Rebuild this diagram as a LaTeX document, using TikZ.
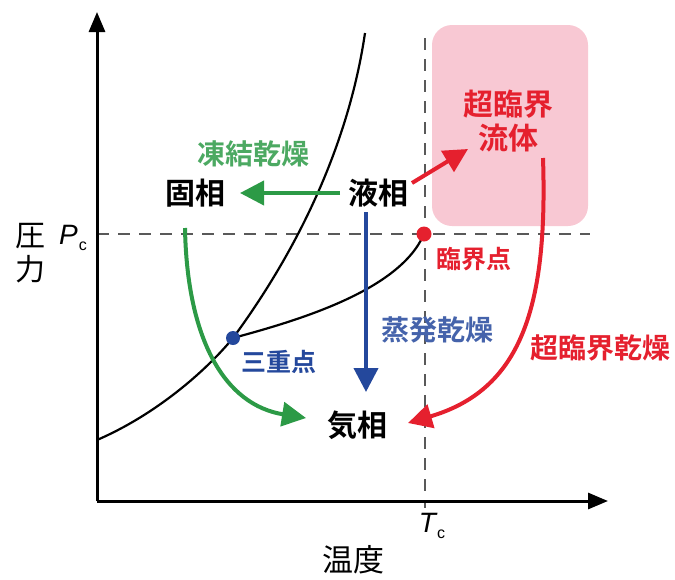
\documentclass[tikz,border=0pt]{standalone}
\usepackage{fontspec}
\setmainfont{Liberation Sans}
\newfontfamily\cjk{Noto Sans CJK JP}
\newfontfamily\cjkb{Noto Sans CJK JP Bold}
\usetikzlibrary{arrows.meta}
\definecolor{myred}{HTML}{E5202E}
\definecolor{mygreen}{HTML}{2C9A46}
\definecolor{myblue}{HTML}{24489C}
\definecolor{mypink}{HTML}{F8C8D3}
\tikzset{
  phase/.style={font=\cjkb\fontsize{30}{30}\selectfont, text=black, inner sep=1pt},
  lbl/.style={font=\cjkb\fontsize{28}{28}\selectfont, inner sep=1pt},
  small/.style={font=\cjkb\fontsize{25}{25}\selectfont, inner sep=1pt},
  big/.style={-{Triangle[length=24pt,width=24pt]}, line width=4pt},
  axis/.style={line width=3pt, -{Triangle[length=20pt,width=16pt]}},
  dashline/.style={dashed, dash pattern=on 12pt off 9pt, line width=1.4pt, draw=black!65},
}
\begin{document}
\begin{tikzpicture}[x=1pt,y=-1pt]
\useasboundingbox (0,0) rectangle (675,579);
% pink box
\fill[mypink, rounded corners=20pt] (432,25) rectangle (588,226);
% dashed lines
\coordinate (dvt) at (425,38);
\coordinate (dvb) at (425,508);
\coordinate (dhl) at (97,234);
\coordinate (dhr) at (590,234);
\draw[dashline] (dvt) -- (dvb);
\draw[dashline] (dhl) -- (dhr);
% axes
\coordinate (o) at (97,501);
\coordinate (ytop) at (97,12);
\coordinate (xr) at (608,501);
\draw[axis] (o) -- (ytop);
\draw[axis] (o) -- (xr);
% phase boundaries
\coordinate (tp) at (233,338);
\coordinate (cp) at (424,234);
\coordinate (sub0) at (97,440);
\coordinate (melt1) at (365,33);
\draw[line width=2.2pt] (sub0) .. controls (155,415) and (205,372) .. (tp)
  .. controls (305,240) and (350,135) .. (melt1);
\draw[line width=2.2pt] (tp) .. controls (300,320) and (400,290) .. (cp);
% labels
\node[lbl, text=mygreen!85!white] (fd) at (253,154) {凍結乾燥};
\node[lbl, text=myblue!85!white] (ed) at (437,330) {蒸発乾燥};
\node[lbl, text=myred] (sd) at (600,348) {超臨界乾燥};
\node[small, text=myred] (cpl) at (474,259) {臨界点};
\node[small, text=myblue] (tpl) at (279,362) {三重点};
% arrows
\coordinate (fa0) at (340,193);
\coordinate (fa1) at (240,193);
\draw[big, draw=mygreen] (fa0) -- (fa1);
\coordinate (ea0) at (366,212);
\coordinate (ea1) at (366,392);
\draw[big, draw=myblue] (ea0) -- (ea1);
\coordinate (sa0) at (412,183);
\coordinate (sa1) at (468,149);
\draw[big, draw=myred] (sa0) -- (sa1);
\coordinate (ga0) at (185,228);
\coordinate (ga1) at (306,418);
\draw[big, draw=mygreen] (ga0) .. controls (187,340) and (225,405) .. (ga1);
\coordinate (ra0) at (543,158);
\coordinate (ra1) at (408,423);
\draw[big, draw=myred] (ra0) .. controls (548,310) and (520,390) .. (ra1);
% dots
\fill[myblue] (tp) circle (7pt);
\fill[myred] (cp) circle (7.5pt);
% axis labels
\node[font=\cjk\fontsize{30}{30}\selectfont, inner sep=0pt] (p1) at (30,236) {圧};
\node[font=\cjk\fontsize{30}{30}\selectfont, inner sep=0pt] (p2) at (30,269) {力};
\node[inner sep=0pt] (pc) at (73,238) {\fontsize{28}{28}\selectfont\itshape P\kern1pt\raisebox{-6pt}{\fontsize{16}{16}\selectfont\upshape c}};
\node[inner sep=0pt] (tc) at (432,526) {\fontsize{28}{28}\selectfont\itshape T\kern1pt\raisebox{-6pt}{\fontsize{16}{16}\selectfont\upshape c}};
\node[font=\cjk\fontsize{31}{31}\selectfont, inner sep=0pt] (temp) at (353,560) {温度};
% phases
\node[phase] (solid) at (195,193) {固相};
\node[phase] (liquid) at (378,193) {液相};
\node[phase] (gas) at (357,425) {気相};
\node[font=\cjkb\fontsize{30}{34}\selectfont, text=myred, align=center, inner sep=1pt] (scf) at (508,121) {超臨界\\流体};
\end{tikzpicture}
\end{document}
